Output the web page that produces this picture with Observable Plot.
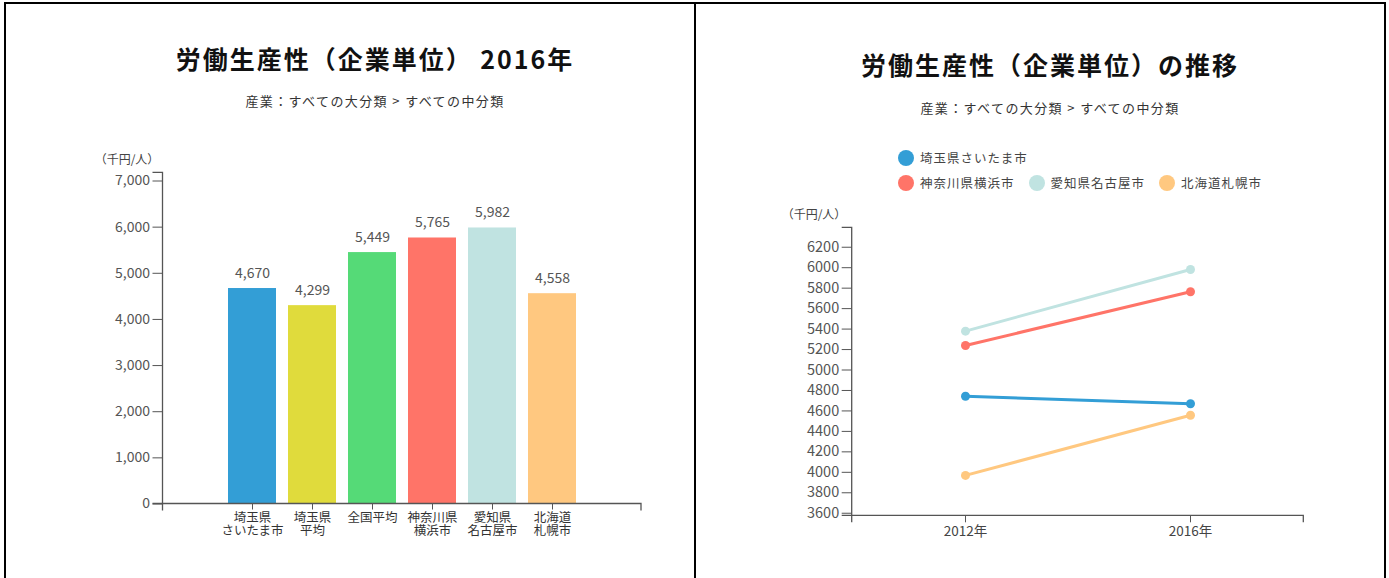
<!DOCTYPE html>
<html><head><meta charset="utf-8">
<script src="https://cdn.jsdelivr.net/npm/d3@7"></script>
<script src="https://cdn.jsdelivr.net/npm/@observablehq/plot@0.6"></script>
<style>
body{margin:0;background:#fff;font-family:"Noto Sans CJK JP","Noto Sans",sans-serif;width:1389px;height:578px;overflow:hidden;position:relative;}
.panel{position:absolute;top:2px;height:620px;box-sizing:border-box;border:2px solid #000;}
#p1{left:4px;width:692px;}
#p2{left:694px;width:692px;}
.t{position:absolute;transform:translate(-50%,-50%);white-space:nowrap;line-height:1;}
.title{font-size:25px;font-weight:bold;letter-spacing:2px;color:#111;}
.sub{font-size:13px;letter-spacing:1.4px;color:#333;}
.ylab{font-size:12px;color:#444;}
.chart{position:absolute;top:4px;}
.legrow{position:absolute;display:flex;align-items:center;transform:translateY(-50%);white-space:nowrap;}
.legitem{display:flex;align-items:center;margin-right:14px;}
.sw{width:16px;height:16px;border-radius:50%;margin-right:6px;}
.lt{font-size:12.5px;letter-spacing:1px;color:#444;line-height:1;}
</style>
</head><body>
<div class="panel" id="p1"></div>
<div class="panel" id="p2"></div>
<div class="t title" style="left:375px;top:58px;">労働生産性（企業単位） 2016年</div>
<div class="t sub" style="left:375px;top:100px;">産業：すべての大分類 &gt; すべての中分類</div>
<div class="t ylab" style="left:127px;top:159px;">（千円/人）</div>
<div class="t title" style="left:1050px;top:64px;">労働生産性（企業単位）の推移</div>
<div class="t sub" style="left:1050px;top:107px;">産業：すべての大分類 &gt; すべての中分類</div>
<div class="t ylab" style="left:814px;top:214px;">（千円/人）</div>
<div id="c1" class="chart" style="left:6px;"></div>
<div id="c2" class="chart" style="left:696px;"></div>
<div id="leg"></div>
<script>
// ---- Left chart data (2016) ----
const categories = ["埼玉県\nさいたま市", "埼玉県\n平均", "全国平均", "神奈川県\n横浜市", "愛知県\n名古屋市", "北海道\n札幌市"];
const values2016 = [4670, 4299, 5449, 5765, 5982, 4558];
const barColors = ["#339ed6", "#e0db3c", "#55da77", "#ff7468", "#c0e3e1", "#ffc880"];
const yTicksLeft = [0, 1000, 2000, 3000, 4000, 5000, 6000, 7000];

// ---- Right chart data (trend) ----
const years = ["2012年", "2016年"];
const cities = ["埼玉県さいたま市", "神奈川県横浜市", "愛知県名古屋市", "北海道札幌市"];
const cityColors = ["#339ed6", "#ff7468", "#c0e3e1", "#ffc880"];
const values2012 = [4744, 5240, 5380, 3970];
const values2016b = [4670, 5765, 5982, 4558];
const yTicksRight = [3600, 3800, 4000, 4200, 4400, 4600, 4800, 5000, 5200, 5400, 5600, 5800, 6000, 6200];

const W = 688, H = 574;
const font = "'Noto Sans CJK JP', 'Noto Sans', sans-serif";
const fmt = d3.format(",");

function drawDomains(plot, yOuter, xOuter) {
  const svg = d3.select(plot);
  const xr = plot.scale("x").range, yr = plot.scale("y").range;
  const x0 = Math.min(...xr), x1 = Math.max(...xr);
  const yb = Math.max(...yr), yt = Math.min(...yr);
  svg.append("path").attr("fill", "none").attr("stroke", "#555").attr("stroke-width", 1.3)
    .attr("d", `M${x0 - yOuter},${yt}H${x0}V${yb}H${x0 - yOuter}`);
  svg.append("path").attr("fill", "none").attr("stroke", "#555").attr("stroke-width", 1.3)
    .attr("d", `M${x0},${yb + xOuter}V${yb}H${x1}V${yb + xOuter}`);
}

const line1 = d => d.split("\n")[0];
const line2 = d => d.split("\n")[1] || "";

const data1 = categories.map((c, i) => ({cat: c, value: values2016[i]}));
const plot1 = Plot.plot({
  width: W, height: H,
  marginLeft: 156.5, marginRight: 53, marginTop: 168.3, marginBottom: 74.5,
  style: {fontFamily: font, fontSize: "13px", background: "transparent", color: "#555", overflow: "visible"},
  x: {domain: categories, paddingInner: 0.2, paddingOuter: 1.04},
  y: {domain: [0, 7178]},
  color: {domain: categories, range: barColors},
  marks: [
    Plot.barY(data1, {x: "cat", y: "value", fill: "cat"}),
    Plot.text(data1, {x: "cat", y: "value", text: d => fmt(d.value), dy: -15, fill: "#555", fontSize: 14}),
    Plot.axisY(yTicksLeft, {tickSize: 10, tickPadding: 3, tickFormat: fmt, label: null, stroke: "#555", fill: "#555", fontSize: 14}),
    Plot.axisX({tickSize: 6, tickPadding: 3, tickFormat: line1, label: null, stroke: "#555", fill: "#333", fontSize: 12.5}),
    Plot.axisX({tickSize: 0, tickPadding: 22, tickFormat: line2, label: null, fill: "#333", fontSize: 12.5})
  ]
});
document.getElementById("c1").append(plot1);
drawDomains(plot1, 10, 7);

const lineData = cities.flatMap((c, i) => [
  {city: c, year: years[0], value: values2012[i]},
  {city: c, year: years[1], value: values2016b[i]}
]);
const plot2 = Plot.plot({
  width: W, height: H,
  marginLeft: 155.7, marginRight: 80.7, marginTop: 223.3, marginBottom: 62.7,
  style: {fontFamily: font, fontSize: "13px", background: "transparent", color: "#555", overflow: "visible"},
  x: {type: "point", domain: years, padding: 0.5},
  y: {domain: [3575, 6390]},
  color: {domain: cities, range: cityColors},
  marks: [
    Plot.axisY(yTicksRight, {tickSize: 10, tickPadding: 3, tickFormat: d => String(d), label: null, stroke: "#555", fill: "#555", fontSize: 14.5}),
    Plot.axisX({tickSize: 7, tickPadding: 4, label: null, stroke: "#555", fill: "#444", fontSize: 13.5}),
    Plot.line(lineData, {x: "year", y: "value", z: "city", stroke: "city", strokeWidth: 3}),
    Plot.dot(lineData, {x: "year", y: "value", fill: "city", r: 4.5})
  ]
});
document.getElementById("c2").append(plot2);
drawDomains(plot2, 10, 7);

// ---- Legend (HTML), first series on its own row as in the reference ----
const leg = document.getElementById("leg");
const rows = [cities.slice(0, 1), cities.slice(1)];
const rowTops = [158, 183];
rows.forEach((row, r) => {
  const div = document.createElement("div");
  div.className = "legrow";
  div.style.left = "898px";
  div.style.top = rowTops[r] + "px";
  row.forEach(c => {
    const it = document.createElement("div");
    it.className = "legitem";
    const sw = document.createElement("div");
    sw.className = "sw";
    sw.style.background = cityColors[cities.indexOf(c)];
    const tx = document.createElement("span");
    tx.className = "lt";
    tx.textContent = c;
    it.append(sw, tx);
    div.append(it);
  });
  leg.append(div);
});
</script>
</body></html>
